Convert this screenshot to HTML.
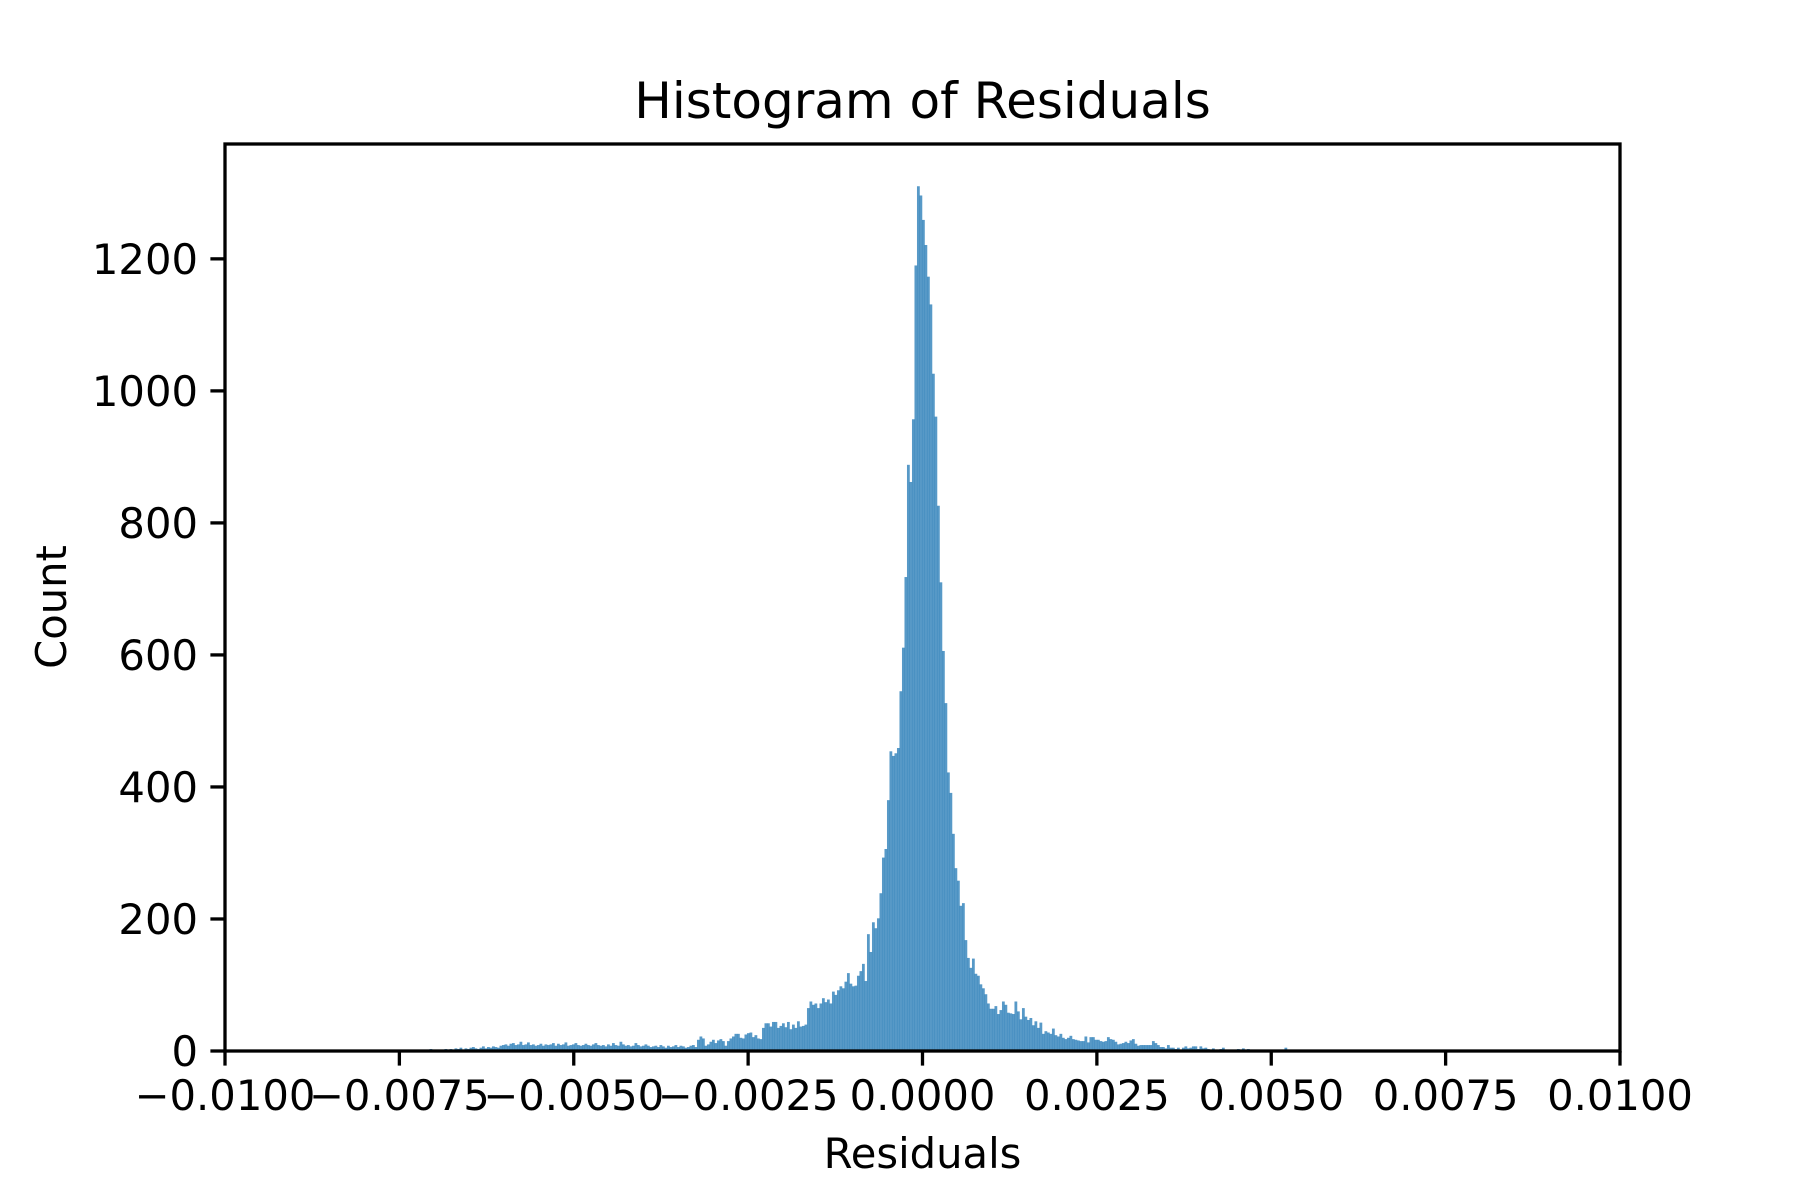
<!DOCTYPE html>
<html><head><meta charset="utf-8"><style>
html,body{margin:0;padding:0;background:#fff;}
svg{display:block;font-family:"DejaVu Sans","Liberation Sans",sans-serif;}
</style></head><body>
<svg id="chart" width="1800" height="1200" viewBox="0 0 1800 1200" xmlns="http://www.w3.org/2000/svg">
<rect x="0" y="0" width="1800" height="1200" fill="#fff"/>
<text x="922.5" y="118" font-size="50" text-anchor="middle" fill="#000">Histogram of Residuals</text>
<g id="bars"></g>
<g id="axes"></g>
<text x="922.5" y="1168" font-size="41.7" text-anchor="middle" fill="#000">Residuals</text>
<text transform="translate(66,607) rotate(-90)" font-size="41.7" text-anchor="middle" fill="#000">Count</text>
</svg>
<script>
const binStart = -0.009756;
const binWidth = 0.00003584;
const leftTailCounts = [
0,0,0,0,0,1,0,0,0,0,0,0,0,1,0,0,0,0,0,0,0,1,0,0,0,0,0,0,0,0,0,0,1,0,0,0,0,0,0,0,0,0,0,0,0,0,1,0,0,0,0,0,0,0,0,1,0,0,0,0,0,0,0,0,1,
1,0,2,0,1,0,1,2,0,1,3,2,1,0,2,1,3,2,
3,2,4,3,5,2,4,3,5,6,4,3,5,7,4,6,5,7,6,5,
8,9,10,8,11,12,9,10,14,9,10,13,9,
10,8,9,11,8,10,9,10,12,8,11,9,10,13,8,9,10,12,9,8,9,11,9,8,10,12,9,
8,9,7,10,8,12,9,8,14,10,8,9,7,8,12,9,7,8,10,8,
6,7,8,6,9,7,5,8,6,7,9,6,8,7,5,6,8,9,6,
17,22,19,8,10,14,17,12,16,18,15,8,
15,19,22,26,26,20,19,25,27,28,21,24,19,18,
35,42,42,37,44,44,35,38,42,36,44,33,40,35,45,37,38,40,
65,75,70,72,65,72,80,74,78,72,90,85,92,98,95,105,118,102
];
const centerCounts = [98,99,114,121,132,106,177,150,195,186,201,239,293,306,380,454,447,451,459,545,611,718,888,862,957,1190,1310,1296,1259,1221,1173,1131,1026,961,826,710,606,527,422,391,329,277,258,220,224,168,141,126,140,117,114,101,95,86,72,64,64,68,56];
const rightTailCounts = [
62,75,70,58,57,56,
75,60,48,65,52,47,
50,39,45,35,43,
26,30,28,26,34,24,22,26,20,18,
20,23,18,17,16,15,15,22,13,21,
21,17,17,15,14,15,21,18,17,14,10,11,12,14,
12,16,18,11,8,9,
9,9,9,9,15,12,9,6,6,4,9,5,
5,3,5,2,5,7,4,5,7,7,3,7,4,5,3,2,
4,2,1,3,5,2,0,2,1,0,3,1,4,0,3,0,1,0,2,0,1,0,0,1,0,0,
1,0,2,5,0,1,0,0,2,0,0,0,1,0,0,0,0,0,0,0,
0,0,0,0,0,0,0,0,0,0,1,0,0,0,0,0,0,0,0,0,0,0,0,0,0,0,0,0,0
];
const xTickValues = [-0.01,-0.0075,-0.005,-0.0025,0,0.0025,0.005,0.0075,0.01];
const xTickLabels = ["\u22120.0100","\u22120.0075","\u22120.0050","\u22120.0025","0.0000","0.0025","0.0050","0.0075","0.0100"];
const yTickValues = [0,200,400,600,800,1000,1200];
const yTickLabels = ["0","200","400","600","800","1000","1200"];

const NS = "http://www.w3.org/2000/svg";
const plotL = 225, plotR = 1620, plotT = 144, plotB = 1051;
const xMin = -0.01, xMax = 0.01, yMin = 0, yMax = 1374;
function xScale(v){ return plotL + (v - xMin) / (xMax - xMin) * (plotR - plotL); }
function yScale(v){ return plotB - (v - yMin) / (yMax - yMin) * (plotB - plotT); }

const counts = leftTailCounts.concat(centerCounts, rightTailCounts);
const barsG = document.getElementById('bars');
counts.forEach((c, i) => {
  if (c <= 0) return;
  const x0 = xScale(binStart + i * binWidth);
  const x1 = xScale(binStart + (i + 1) * binWidth);
  const r = document.createElementNS(NS, 'rect');
  r.setAttribute('x', x0);
  r.setAttribute('y', yScale(c));
  r.setAttribute('width', x1 - x0 + 0.3);
  r.setAttribute('height', yScale(0) - yScale(c));
  r.setAttribute('fill', 'rgba(31,119,180,0.75)');
  
  
  barsG.appendChild(r);
});

const axesG = document.getElementById('axes');
const frame = document.createElementNS(NS, 'rect');
frame.setAttribute('x', plotL); frame.setAttribute('y', plotT);
frame.setAttribute('width', plotR - plotL); frame.setAttribute('height', plotB - plotT);
frame.setAttribute('fill', 'none'); frame.setAttribute('stroke', '#000'); frame.setAttribute('stroke-width', '3.3');


axesG.appendChild(frame);

xTickValues.forEach((v, i) => {
  const x = xScale(v);
  const t = document.createElementNS(NS, 'line');
  t.setAttribute('x1', x); t.setAttribute('x2', x);
  t.setAttribute('y1', plotB); t.setAttribute('y2', plotB + 14.6);
  t.setAttribute('stroke', '#000'); t.setAttribute('stroke-width', '3.3');
  
  
  axesG.appendChild(t);
  const l = document.createElementNS(NS, 'text');
  l.setAttribute('x', x); l.setAttribute('y', plotB + 59);
  l.setAttribute('font-size', '41.7'); l.setAttribute('text-anchor', 'middle');
  l.textContent = xTickLabels[i];
  
  
  axesG.appendChild(l);
});

yTickValues.forEach((v, i) => {
  const y = yScale(v);
  const t = document.createElementNS(NS, 'line');
  t.setAttribute('x1', plotL - 14.6); t.setAttribute('x2', plotL);
  t.setAttribute('y1', y); t.setAttribute('y2', y);
  t.setAttribute('stroke', '#000'); t.setAttribute('stroke-width', '3.3');
  
  
  axesG.appendChild(t);
  const l = document.createElementNS(NS, 'text');
  l.setAttribute('x', plotL - 27); l.setAttribute('y', y + 15);
  l.setAttribute('font-size', '41.7'); l.setAttribute('text-anchor', 'end');
  l.textContent = yTickLabels[i];
  
  
  axesG.appendChild(l);
});
</script>
</body></html>
